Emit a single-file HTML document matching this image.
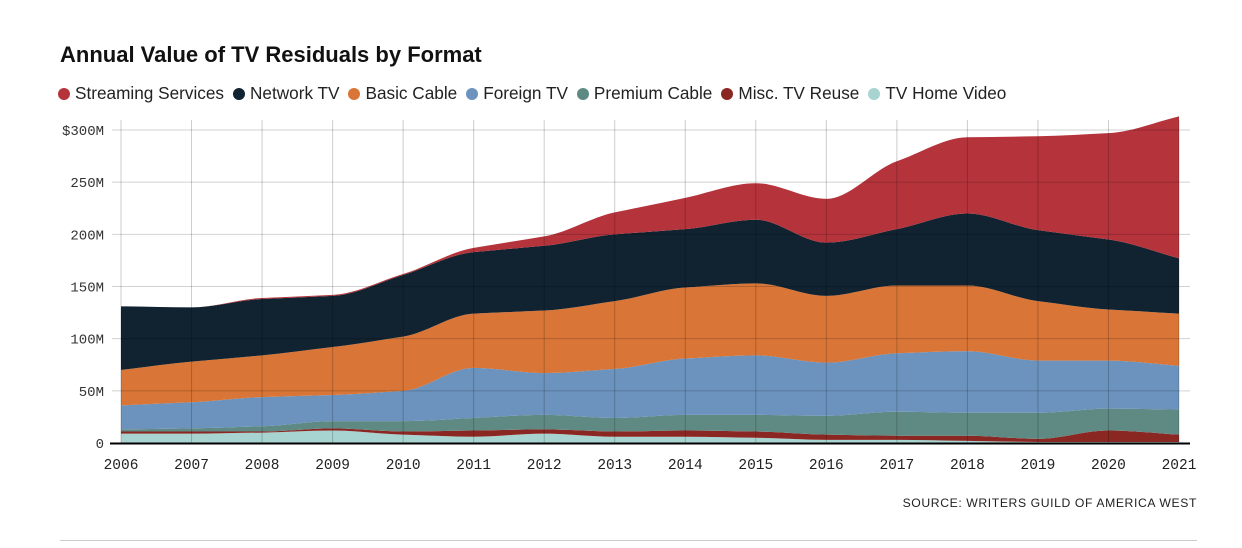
<!DOCTYPE html>
<html><head><meta charset="utf-8"><style>
body{margin:0;background:#fff;width:1242px;height:548px;overflow:hidden;font-family:"Liberation Sans",sans-serif}
.t{position:absolute;left:60px;top:42px;font-size:22px;font-weight:bold;color:#111}
.lg{position:absolute;left:58px;top:83px;font-size:17.2px;color:#222;display:flex;gap:0}
.lg span{display:flex;align-items:center;margin-right:9px}
.lg i{display:inline-block;width:12px;height:12px;border-radius:50%;margin-right:5px}
.src{position:absolute;right:45px;top:496px;font-size:12.2px;letter-spacing:.6px;color:#222}
.rule{position:absolute;left:60px;top:540px;width:1137px;height:1px;background:#ccc}
</style></head><body>
<div class="t">Annual Value of TV Residuals by Format</div>
<div class="lg" id="lg"></div>
<svg id="c" width="1242" height="548" style="position:absolute;left:0;top:0"></svg>
<div class="src">SOURCE: WRITERS GUILD OF AMERICA WEST</div>
<div class="rule"></div>
<script>
const years=[2006,2007,2008,2009,2010,2011,2012,2013,2014,2015,2016,2017,2018,2019,2020,2021];
const seriesNames=["TV Home Video","Misc. TV Reuse","Premium Cable","Foreign TV","Basic Cable","Network TV","Streaming Services"];
const homeVideo=[9,9,10,12,8,6,9,6,6,5,3,3,2,1,1,1];
const miscReuse=[2,2,1,2,3,6,4,5,6,6,5,4,5,3,11,7];
const premiumCable=[2,3,5,7,10,12,14,13,15,16,18,23,22,25,21,24];
const foreignTV=[23,25,28,25,29,48,40,47,54,57,51,56,59,50,46,42];
const basicCable=[34,39,40,46,52,52,60,65,68,69,64,65,63,57,49,50];
const networkTV=[61,52,54,49,59,59,62,64,56,61,51,54,69,68,67,53];
const streaming=[0,0,1,1,1,4,9,21,30,35,42,65,73,90,102,136];
const yTicks=[0,50,100,150,200,250,300];
const yTickLabels=["0","50M","100M","150M","200M","250M","$300M"];
const colors=["#a7d4d0","#8b2723","#5f8a83","#6b93bd","#d87537","#112230","#b5333b"];
const layers=[homeVideo,miscReuse,premiumCable,foreignTV,basicCable,networkTV,streaming];
const X=y=>121+(y-2006)*(1179-121)/15, Y=v=>443-v*(443-130)/300;
const svg=document.getElementById('c'),NS="http://www.w3.org/2000/svg";
function mk(t,a){const e=document.createElementNS(NS,t);for(const k in a)e.setAttribute(k,a[k]);svg.appendChild(e);return e;}
function mono(px,py){const n=px.length,d=[],m=[];for(let i=0;i<n-1;i++)d.push((py[i+1]-py[i])/(px[i+1]-px[i]));
m[0]=d[0];m[n-1]=d[n-2];for(let i=1;i<n-1;i++){m[i]=d[i-1]*d[i]<=0?0:(Math.sign(d[i])*Math.min(Math.abs(d[i-1]),Math.abs(d[i]),0.5*Math.abs(d[i-1]+d[i])));}
let s="";for(let i=0;i<n-1;i++){const h=(px[i+1]-px[i])/3;s+=` C${px[i]+h},${py[i]+m[i]*h} ${px[i+1]-h},${py[i+1]-m[i+1]*h} ${px[i+1]},${py[i+1]}`;}return s;}
const xs=years.map(X);let cum=years.map(()=>0);
const lgd=document.getElementById('lg');
for(let L=layers.length-1;L>=0;L--){const s=document.createElement('span');s.innerHTML=`<i style="background:${colors[L]}"></i>${seriesNames[L]}`;


lgd.appendChild(s);}
layers.forEach((arr,L)=>{const lo=cum.slice();cum=cum.map((c,i)=>c+arr[i]);
const ty=cum.map(Y),by=lo.map(Y);const rx=xs.slice().reverse(),ry=by.slice().reverse();
const d=`M${xs[0]},${ty[0]}`+mono(xs,ty)+` L${rx[0]},${ry[0]}`+mono(rx,ry)+"Z";
const p=mk('path',{d,fill:colors[L]});

});
yTicks.forEach((v,i)=>{const g=mk('line',{x1:112,x2:1190,y1:Y(v),y2:Y(v),stroke:'rgba(0,0,0,0.18)','stroke-width':1});


const t=mk('text',{x:104,y:Y(v)+5,'text-anchor':'end','font-family':'Liberation Mono,monospace','font-size':14,fill:'#333'});t.textContent=yTickLabels[i];

});
years.forEach(y=>{const g=mk('line',{x1:X(y),x2:X(y),y1:120,y2:443,stroke:'rgba(0,0,0,0.2)','stroke-width':1});


const t=mk('text',{x:X(y),y:469,'text-anchor':'middle','font-family':'Liberation Mono,monospace','font-size':14.5,fill:'#222'});t.textContent=y;

});
const ax=mk('line',{x1:110,x2:1190,y1:443.5,y2:443.5,stroke:'#000','stroke-width':2});


</script></body></html>
